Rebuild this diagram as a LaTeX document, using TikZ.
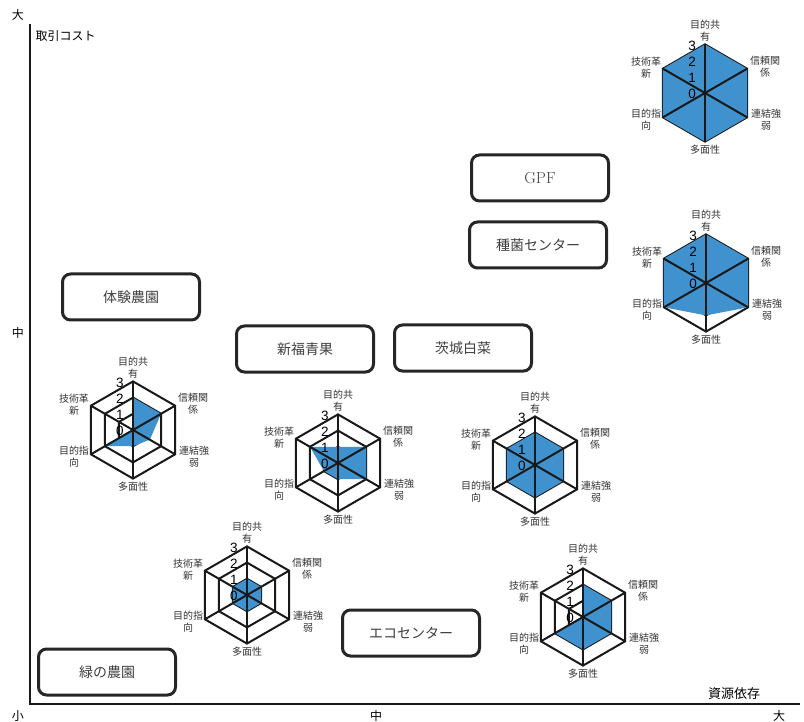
\documentclass[tikz,border=0pt]{standalone}
\usepackage{fontspec}
\newfontfamily\jp{Noto Sans CJK JP}
\newfontfamily\numfont{Liberation Sans}
\definecolor{radarblue}{RGB}{64,146,206}
\tikzset{
  actor/.style={draw=black!85, line width=3pt, rounded corners=8pt, fill=white,
    minimum width=137pt, minimum height=46pt, font=\jp\fontsize{14}{14}\selectfont, text=black!75},
  ring/.style={draw=black!90, line width=2pt, line join=miter},
  spoke/.style={draw=black!90, line width=2pt},
  area/.style={fill=radarblue},
  axislabel/.style={font=\jp\fontsize{12}{12}\selectfont},
  radarlabel/.style={font=\jp\fontsize{10}{12}\selectfont, align=center, text=black!80},
  scalenum/.style={font=\numfont\fontsize{13.5}{13.5}\selectfont, inner sep=0pt},
}
\def\runit{16.2}
% #1 name, #2 centre, #3-#8 values (top, then clockwise)
\newcommand{\radarchart}[8]{%
  \begin{scope}[shift={(#2)},yscale=-1]
    \coordinate (#1) at (0,0);
    \foreach \k in {1,2,3}
      \draw[ring] (90:\k*\runit) -- (30:\k*\runit) -- (-30:\k*\runit)
        -- (-90:\k*\runit) -- (210:\k*\runit) -- (150:\k*\runit) -- cycle;
    \fill[area] (90:#3*\runit) -- (30:#4*\runit) -- (-30:#5*\runit)
      -- (-90:#6*\runit) -- (210:#7*\runit) -- (150:#8*\runit) -- cycle;
    \foreach \a/\s in {90/a,30/b,-30/c,-90/d,210/e,150/f}
      \coordinate (#1\s) at (\a:3*\runit);
    \draw[spoke] (#1a) -- (#1d);
    \draw[spoke] (#1b) -- (#1e);
    \draw[spoke] (#1c) -- (#1f);
    \foreach \k in {0,1,2,3}
      \node[scalenum] (#1n\k) at (-13,16*\k-1) {\k};
    \node[radarlabel] (#1la) at (0,62) {目的共\\有};
    \node[radarlabel] (#1lb) at (60,26) {信頼関\\係};
    \node[radarlabel] (#1lc) at (61,-27) {連結強\\弱};
    \node[radarlabel] (#1ld) at (0,-57) {多面性};
    \node[radarlabel] (#1le) at (-59,-27) {目的指\\向};
    \node[radarlabel] (#1lf) at (-59,25) {技術革\\新};
  \end{scope}}
\begin{document}
\begin{tikzpicture}[x=1pt,y=-1pt]
  \useasboundingbox (0,0) rectangle (804,722);
  \coordinate (O) at (30,704);
  \coordinate (ytop) at (30,24);
  \coordinate (xend) at (800,704);
  \draw[line width=2.5pt, black!90] (ytop) -- (O) -- (xend);

  \node[axislabel] (ybig) at (18,15) {大};
  \node[axislabel, anchor=west] (ytitle) at (32,36) {取引コスト};
  \node[axislabel] (ymid) at (18,333) {中};
  \node[axislabel] (small) at (18,716) {小};
  \node[axislabel] (xmid) at (376,716) {中};
  \node[axislabel] (xbig) at (779,716) {大};
  \node[axislabel, font=\jp\fontsize{13}{13}\selectfont] (xtitle) at (734,694) {資源依存};

  \node[actor, font=\fontsize{16}{16}\selectfont] (gpf) at (540,178) {GPF};
  \node[actor] (shukin) at (538,245) {種菌センター};
  \node[actor] (taiken) at (131,297) {体験農園};
  \node[actor] (shinpuku) at (305,349) {新福青果};
  \node[actor] (hakusai) at (463,348) {茨城白菜};
  \node[actor] (eco) at (411,633) {エコセンター};
  \node[actor] (midori) at (107,672) {緑の農園};

  \radarchart{rgpf}{705,93}{3}{3}{3}{3}{3}{3}
  \radarchart{rshukin}{706,283}{3}{3}{3}{2}{3}{3}
  \radarchart{rtaiken}{133,430}{2}{2}{1.2}{1}{2}{0}
  \radarchart{rshinpuku}{338,463}{1}{2}{2}{1}{1}{2}
  \radarchart{rhakusai}{535,465}{2}{2}{2}{2}{2}{2}
  \radarchart{reco}{247,595}{1}{1}{1}{1}{1}{1}
  \radarchart{rmidori}{583,617}{2}{2}{2}{2}{2}{0}
\end{tikzpicture}
\end{document}
